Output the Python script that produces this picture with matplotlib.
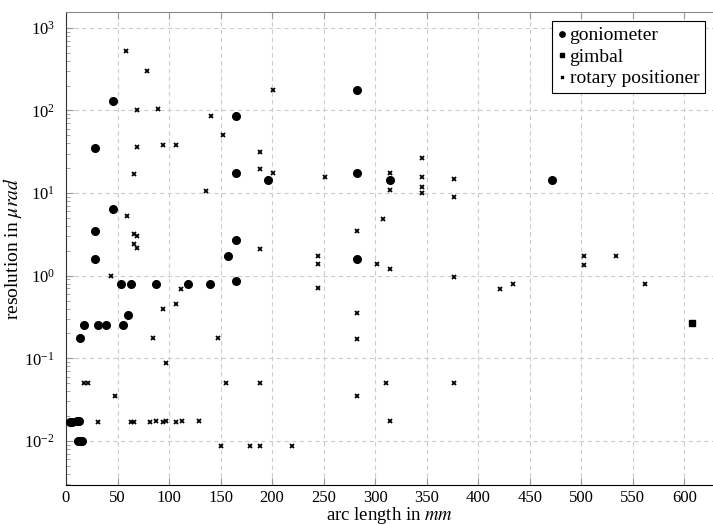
import matplotlib
matplotlib.use("Agg")
import matplotlib.pyplot as plt
from matplotlib.ticker import LogLocator, NullFormatter

plt.rcParams['font.family'] = ['Liberation Serif', 'DejaVu Serif']
plt.rcParams['mathtext.fontset'] = 'stix'

# goniometer
gon_x = [4, 6, 10.5, 12.5, 11.5, 13.5, 15.5, 13.6, 17.2, 31.1, 38.5, 55.6, 59.9,
         28.1, 53.7, 62.8, 87.7, 118.7, 139.7, 165, 157.2, 165, 28.1, 45.3, 28.1,
         45.3, 165, 165, 196.3, 282.7, 282.7, 282.7, 314.1, 471.3]
gon_y = [0.0171, 0.0171, 0.0175, 0.0175, 0.01, 0.01, 0.01, 0.175, 0.25, 0.25, 0.25,
         0.25, 0.337, 1.6, 0.787, 0.787, 0.787, 0.787, 0.787, 0.87, 1.75, 2.7, 3.5,
         6.37, 34.9, 131, 86.5, 17.4, 14.4, 176, 17.4, 1.57, 14.4, 14.4]

# gimbal
gim_x = [607.5]
gim_y = [0.27]

# rotary positioner
rot_x = [57.9, 78.6, 68.9, 89.3, 141, 152.4, 68.9, 94.1, 106.7, 66, 135.6, 59.5, 66,
         68.9, 66, 68.9, 44, 111.6, 106.7, 94.1, 84.7, 147.5, 97.3, 17.2, 21.3, 155.6,
         47.2, 31, 62.8, 66.3, 81.5, 87.6, 94.1, 97.3, 106.7, 112.9, 128.8, 150.7,
         178.5, 188.6, 219.6, 200.9, 188.6, 188.6, 200.9, 251.3, 314.1, 314.1, 345.5,
         345.5, 345.5, 345.5, 376.8, 376.8, 307.6, 282.7, 188.6, 244.9, 244.9, 301.5,
         314.1, 376.8, 244.9, 282.7, 282.7, 188.6, 310.8, 376.8, 282.7, 314.1, 502.7,
         534, 502.7, 420.9, 433.5, 562.2]
rot_y = [525, 301, 100, 105, 86.5, 51, 36, 38, 38, 16.9, 10.6, 5.24, 3.17, 3.0, 2.44,
         2.18, 1.0, 0.696, 0.45, 0.399, 0.175, 0.175, 0.087, 0.05, 0.05, 0.05, 0.035,
         0.0171, 0.0171, 0.0171, 0.0171, 0.0175, 0.0171, 0.0175, 0.0171, 0.0175, 0.0175,
         0.00875, 0.00875, 0.00875, 0.00875, 176, 31.7, 19.7, 17.4, 15.7, 17.4, 10.9,
         26.8, 15.7, 11.9, 10.0, 14.9, 8.9, 4.86, 3.5, 2.1, 1.75, 1.40, 1.40, 1.195,
         0.964, 0.704, 0.35, 0.17, 0.05, 0.05, 0.05, 0.035, 0.0174, 1.75, 1.75, 1.34,
         0.696, 0.787, 0.787]

xticks = [0, 50, 100, 150, 200, 250, 300, 350, 400, 450, 500, 550, 600]

fig = plt.figure(figsize=(7.13, 5.25), dpi=100)
ax = fig.add_axes([66/713, 1 - 485/525, 1 - 66/713, (485 - 12)/525])

ax.plot(gon_x, gon_y, 'o', color='black', markersize=5.5, linestyle='none', label='goniometer', zorder=3)
ax.plot(gim_x, gim_y, 's', color='black', markersize=5, linestyle='none', label='gimbal', zorder=3)
ax.plot(rot_x, rot_y, 'x', color='black', markersize=2.8, markeredgewidth=1.3, linestyle='none',
        label='rotary positioner', zorder=3)

ax.set_yscale('log')
ax.set_xlim(0, 627.8)
ax.set_ylim(10**-2.534, 10**3.192)
ax.set_xticks(xticks)
ax.set_yticks([1e-2, 1e-1, 1e0, 1e1, 1e2, 1e3])
ax.yaxis.set_minor_locator(LogLocator(base=10, subs=range(2, 10), numticks=20))
ax.yaxis.set_minor_formatter(NullFormatter())

ax.grid(True, which='major', linestyle=(0, (4, 3)), color='#cccccc', linewidth=0.8)
ax.set_axisbelow(True)

ax.tick_params(which='both', direction='in', top=True, bottom=True, left=True, right=False,
               color='#999999', labelsize=12)
ax.tick_params(which='major', length=5)
ax.tick_params(which='minor', length=3)
ax.tick_params(axis='x', which='minor', bottom=False, top=False)
ax.tick_params(axis='x', which='major', pad=3.5)
ax.tick_params(axis='y', which='major', pad=8)

ax.spines['right'].set_visible(False)
ax.spines['top'].set_color('#888888')
ax.spines['left'].set_color('#333333')
ax.spines['bottom'].set_color('black')

ax.set_xlabel('arc length in $mm$', fontsize=13.5)
ax.set_ylabel(r'resolution in $\mu rad$', fontsize=14)
ax.xaxis.set_label_coords(0.5, (485 - 505.5) / 473)
ax.yaxis.set_label_coords((24 - 66) / 647, 0.5)

leg = ax.legend(loc='upper right', bbox_to_anchor=(705/713, 1 - 21/525), bbox_transform=fig.transFigure,
                fontsize=14, frameon=True, fancybox=False, framealpha=1, edgecolor='black',
                handlelength=0.45, handletextpad=0.15, borderpad=0.3, borderaxespad=0,
                labelspacing=0.2, markerscale=0.7)
leg.get_frame().set_linewidth(0.8)

fig.savefig('out.png', dpi=100)
